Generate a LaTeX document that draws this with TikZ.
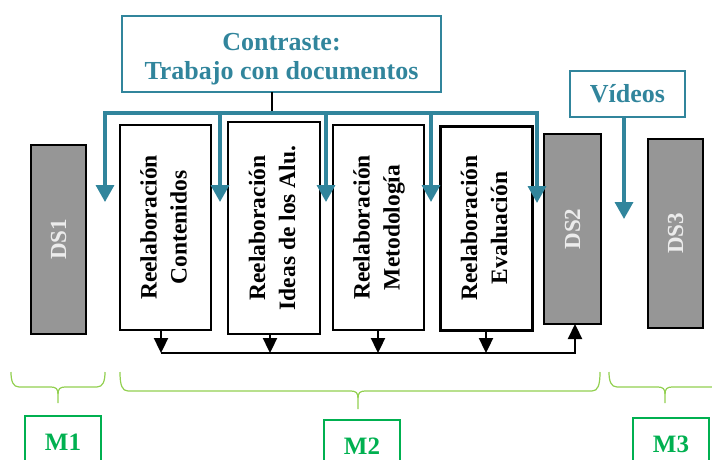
\documentclass[tikz,border=0pt]{standalone}
\usepackage{fontspec}
\setmainfont{Liberation Serif}
\usetikzlibrary{arrows.meta}
\definecolor{tealc}{HTML}{31859C}
\definecolor{dsgray}{HTML}{969696}
\definecolor{brgreen}{HTML}{92D050}
\definecolor{mgreen}{HTML}{00B050}
\newcommand\vtwo[2]{\rotatebox{90}{\begin{tabular}{@{}c@{}}#1\\#2\end{tabular}}}
\newcommand\mybrace[6]{%
 \draw[brc] (#1,#4) .. controls (#1,#5-6) and (#1+2,#5) .. (#1+8,#5) -- (#3-7,#5) .. controls (#3-2,#5) and (#3,#5+2) .. (#3,#5+7) -- (#3,#6);
 \draw[brc] (#2,#4) .. controls (#2,#5-6) and (#2-2,#5) .. (#2-8,#5) -- (#3+7,#5) .. controls (#3+2,#5) and (#3,#5+2) .. (#3,#5+7);}
\begin{document}
\begin{tikzpicture}[x=1pt,y=-1pt,
  every node/.style={inner sep=0pt, outer sep=0pt},
  relbox/.style={draw=black, line width=1.5pt, fill=white, font=\bfseries\fontsize{23.5}{30}\selectfont},
  dsbox/.style={draw=black, line width=1.5pt, fill=dsgray, text=gray!15, font=\bfseries\fontsize{23}{28}\selectfont},
  tealbox/.style={draw=tealc, line width=1.6pt},
  tealtext/.style={text=tealc, font=\bfseries\fontsize{26}{29}\selectfont, align=center},
  tarrow/.style={draw=tealc, line width=3.4pt, -{Triangle[width=18pt,length=17pt]}},
  tline/.style={draw=tealc, line width=1.6pt},
  barrow/.style={draw=black, line width=2.3pt, -{Triangle[width=14pt,length=15pt]}},
  brc/.style={draw=brgreen, line width=1.2pt},
  mbox/.style={draw=mgreen, line width=1.6pt, text=mgreen, font=\bfseries\fontsize{25}{28}\selectfont, minimum width=76pt, minimum height=52pt, anchor=north},
]
\useasboundingbox (0,0) rectangle (712,459);
\clip (0,0) rectangle (712,459);

% boxes
\node[dsbox, minimum width=55pt, minimum height=189pt] (ds1) at (58.5,239.5) {\rotatebox{90}{DS1}};
\node[relbox, minimum width=91pt, minimum height=205pt] (b1) at (165.5,227.5) {\vtwo{Reelaboración}{Contenidos}};
\node[relbox, minimum width=92pt, minimum height=212pt] (b2) at (274,228) {\vtwo{Reelaboración}{Ideas de los Alu.}};
\node[relbox, minimum width=91pt, minimum height=205pt] (b3) at (378.5,227.5) {\vtwo{Reelaboración}{Metodología}};
\node[relbox, line width=3pt, minimum width=92pt, minimum height=204pt] (b4) at (486,228) {\vtwo{Reelaboración}{Evaluación}};
\node[dsbox, minimum width=57pt, minimum height=190pt] (ds2) at (572.5,229) {\rotatebox{90}{DS2}};
\node[dsbox, minimum width=55pt, minimum height=189pt] (ds3) at (675.5,233.5) {\rotatebox{90}{DS3}};

% top boxes
\node[tealbox, minimum width=319pt, minimum height=76pt] (con) at (281.5,54) {};
\node[tealtext] (context) at (281.5,59) {Contraste:\\Trabajo con documentos};
\node[tealbox, tealtext, minimum width=115pt, minimum height=46pt] (vid) at (627.5,94) {Vídeos};

% teal arrows
\coordinate (hub) at (272,113);
\coordinate (tA) at (105,202);
\coordinate (tB) at (220,202);
\coordinate (tC) at (326,202);
\coordinate (tD) at (431,202);
\coordinate (tE) at (537,203);
\coordinate (tV) at (624,219);
\draw[draw=black, line width=1.2pt] (con.south -| hub) -- (hub);
\draw[tarrow] (hub) -- (tA |- hub) -- (tA);
\draw[tarrow] (hub) -- (tE |- hub) -- (tE);
\draw[tarrow] (tB |- hub) -- (tB);
\draw[tarrow] (tC |- hub) -- (tC);
\draw[tarrow] (tD |- hub) -- (tD);
\draw[tarrow] (vid.south -| tV) -- (tV);

% black connectors
\coordinate (j1) at (161,353);
\coordinate (j2) at (270,353);
\coordinate (j3) at (378,353);
\coordinate (j4) at (486,353);
\coordinate (j5) at (575,353);
\draw[barrow] (j1) -- (j5) -- (ds2.south -| j5);
\draw[barrow] (b1.south -| j1) -- (j1);
\draw[barrow] (b2.south -| j2) -- (j2);
\draw[barrow] (b3.south -| j3) -- (j3);
\draw[barrow] (b4.south -| j4) -- (j4);

% braces
\mybrace{11}{105}{58}{372}{387}{403}
\mybrace{120}{600}{358}{372}{391}{409}
\mybrace{609}{721}{665}{372}{387}{403}

% module boxes
\node[mbox] (m1) at (63,416) {M1};
\node[mbox] (m2) at (362,420) {M2};
\node[mbox] (m3) at (671,418) {M3};
\end{tikzpicture}
\end{document}
